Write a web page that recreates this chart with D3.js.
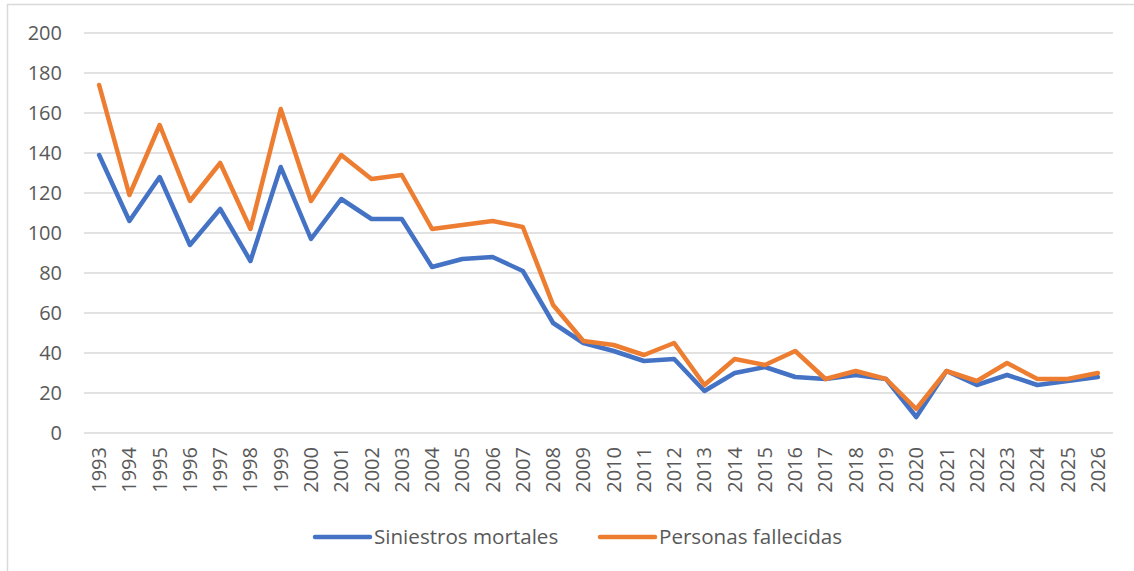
<!DOCTYPE html>
<html>
<head>
    <meta charset="utf-8">
    <title>Siniestros mortales</title>
    <script src="https://d3js.org/d3.v7.min.js"></script>
    <style>
        body { margin: 0; background: #fff; }
        text { font-family: 'Open Sans', sans-serif; fill: #595959; }
    </style>
</head>
<body>
    <svg width="1134" height="571"></svg>
    <script>
        const years = d3.range(1993, 2027).map(String)
        const siniestros = [139, 106, 128, 94, 112, 86, 133, 97, 117, 107, 107, 83, 87, 88, 81, 55, 45, 41, 36, 37,
            21, 30, 33, 28, 27, 29, 27, 8, 31, 24, 29, 24, 26, 28]
        const fallecidas = [174, 119, 154, 116, 135, 102, 162, 116, 139, 127, 129, 102, 104, 106, 103, 64, 46, 44, 39, 45,
            24, 37, 34, 41, 27, 31, 27, 12, 31, 26, 35, 27, 27, 30]
        const seriesNames = ["Siniestros mortales", "Personas fallecidas"]
        const colors = ["#4472C4", "#ED7D31"]
        const yTicks = d3.range(0, 201, 20)

        const svg = d3.select("svg")
        const margin = { top: 33, left: 84, right: 21, bottom: 138 }
        const width = +svg.attr("width")
        const height = +svg.attr("height")

        // chart area frame (cropped: only top and left edges visible)
        svg.append("line").attr("x1", 7).attr("x2", width).attr("y1", 4.5).attr("y2", 4.5)
            .attr("stroke", "#d9d9d9").attr("stroke-width", 1.5)
        svg.append("line").attr("x1", 7.5).attr("x2", 7.5).attr("y1", 4).attr("y2", height)
            .attr("stroke", "#d9d9d9").attr("stroke-width", 1.5)

        const x = d3.scaleBand()
            .domain(years)
            .range([margin.left, width - margin.right])
        const y = d3.scaleLinear()
            .domain([0, 200])
            .range([height - margin.bottom, margin.top])

        // gridlines
        svg.append("g").selectAll("line")
            .data(yTicks)
            .enter()
            .append("line")
            .attr("x1", margin.left)
            .attr("x2", width - margin.right)
            .attr("y1", d => y(d))
            .attr("y2", d => y(d))
            .attr("stroke", "#d9d9d9")
            .attr("stroke-width", 1.5)

        const yAxis = d3.axisLeft(y).tickValues(yTicks).tickSize(0).tickPadding(22)
        const gy = svg.append("g")
            .attr("transform", `translate(${margin.left},0)`)
            .call(yAxis)
        gy.select(".domain").remove()
        gy.selectAll("text").style("font-size", "20px").attr("fill", "#595959")

        const xAxis = d3.axisBottom(x).tickSize(0)
        const gx = svg.append("g")
            .attr("transform", `translate(0,${y(0)})`)
            .call(xAxis)
        gx.select(".domain").remove()
        gx.selectAll("text")
            .style("font-size", "20px")
            .attr("fill", "#595959")
            .attr("transform", "rotate(-90)")
            .attr("x", -14)
            .attr("y", 0)
            .attr("dy", "0.35em")
            .style("text-anchor", "end")

        const line = d3.line()
            .x((d, i) => x(years[i]) + x.bandwidth() / 2)
            .y(d => y(d))

        const allSeries = [siniestros, fallecidas]
        allSeries.forEach((s, k) => {
            svg.append("path")
                .datum(s)
                .attr("d", line)
                .attr("fill", "none")
                .attr("stroke", colors[k])
                .attr("stroke-width", 4.5)
                .attr("stroke-linejoin", "round")
                .attr("stroke-linecap", "round")
        })

        // legend
        const legendX = [315, 600]
        const legend = svg.append("g")
        seriesNames.forEach((name, k) => {
            legend.append("line")
                .attr("x1", legendX[k]).attr("x2", legendX[k] + 55)
                .attr("y1", 537).attr("y2", 537)
                .attr("stroke", colors[k])
                .attr("stroke-width", 4.5)
                .attr("stroke-linecap", "round")
            legend.append("text")
                .attr("x", legendX[k] + 59)
                .attr("y", 537)
                .attr("dy", "0.35em")
                .style("font-size", "20.6px")
                .text(name)
        })
    </script>
</body>
</html>
